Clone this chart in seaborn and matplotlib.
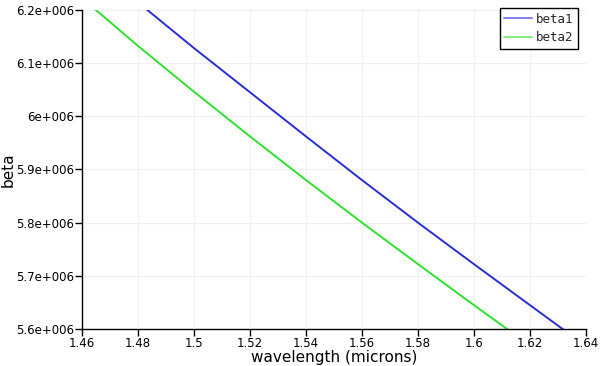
import numpy as np
import matplotlib
matplotlib.use("Agg")
import matplotlib.pyplot as plt
import matplotlib.ticker as mticker
import seaborn as sns
import pandas as pd

wavelength = [1.46, 1.48, 1.50, 1.52, 1.54, 1.56, 1.58, 1.60, 1.62, 1.64]
beta1 = [6.300e6, 6.214e6, 6.128e6, 6.045e6, 5.962e6, 5.880e6, 5.800e6, 5.722e6, 5.645e6, 5.568e6]
beta2 = [6.222e6, 6.132e6, 6.046e6, 5.962e6, 5.880e6, 5.800e6, 5.722e6, 5.645e6, 5.569e6, 5.495e6]
xticks = [1.46, 1.48, 1.5, 1.52, 1.54, 1.56, 1.58, 1.6, 1.62, 1.64]
yticks = [5.6e6, 5.7e6, 5.8e6, 5.9e6, 6.0e6, 6.1e6, 6.2e6]

df = pd.DataFrame({
    "wavelength": wavelength * 2,
    "beta": beta1 + beta2,
    "series": ["beta1"] * len(beta1) + ["beta2"] * len(beta2),
})

sns.set_style("white")
plt.rcParams['font.family'] = ['DejaVu Sans']

fig = plt.figure(figsize=(6.04, 3.66), dpi=100)
ax = fig.add_axes([0.136, 0.101, 0.834, 0.872])

sns.lineplot(data=df, x="wavelength", y="beta", hue="series",
             palette={"beta1": "#2b2bd6", "beta2": "#2fe02f"},
             linewidth=1.4, ax=ax)

ax.set_xlim(1.46, 1.64)
ax.set_ylim(5.6e6, 6.2e6)
ax.set_xticks(xticks)
ax.set_yticks(yticks)
ax.xaxis.set_major_formatter(mticker.FuncFormatter(lambda v, p: ("%g" % v)))

def sci(v, p):
    m, e = ("%e" % v).split("e")
    m = ("%g" % float(m))
    return "%se+%03d" % (m, int(e))

ax.yaxis.set_major_formatter(mticker.FuncFormatter(sci))
ax.grid(True, color="#f0f0f0", linewidth=0.8)
for s in ["top", "right"]:
    ax.spines[s].set_visible(False)
for s in ["left", "bottom"]:
    ax.spines[s].set_color("black")
    ax.spines[s].set_linewidth(1.0)
ax.tick_params(axis="both", direction="out", length=5, width=1, color="black",
               labelcolor="black", labelsize=8.5, pad=1, bottom=True, left=True)
ax.set_xlabel("wavelength (microns)", fontsize=11, labelpad=0, color="black")
ax.set_ylabel("beta", fontsize=11, labelpad=0, color="black")

leg = ax.legend(loc="upper right", bbox_to_anchor=(0.996, 1.024), frameon=True,
                fancybox=False, framealpha=1, edgecolor="black",
                prop={"family": "DejaVu Sans Mono", "size": 9},
                handlelength=2.2, handletextpad=0.3, borderpad=0.35, labelspacing=0.45)
leg.get_frame().set_linewidth(1.0)
for h in leg.legend_handles:
    h.set_alpha(0.6)

fig.savefig("out.png", dpi=100)
